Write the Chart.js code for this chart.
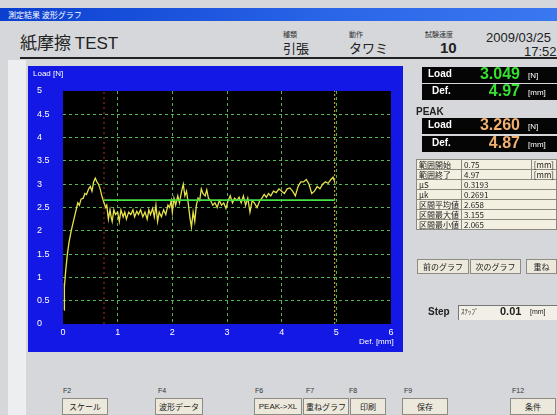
<!DOCTYPE html>
<html><head><meta charset="utf-8">
<script src="https://cdn.jsdelivr.net/npm/chart.js@4/dist/chart.umd.min.js"></script>
<style>
html,body{margin:0;padding:0;width:557px;height:415px;overflow:hidden;background:#d5d7db;font-family:"Noto Sans CJK JP","Liberation Sans",sans-serif;}
.a{position:absolute;white-space:nowrap;}
#title{left:0;top:8px;width:557px;height:13px;background:linear-gradient(to right,#0b3fd0,#2a66e8 60%,#3a78f0);color:#fff;font-size:8px;line-height:13px;padding-left:8px;box-sizing:border-box;}
#strip{left:8px;top:60px;width:18px;height:355px;background:#eceef0;}
#hline{left:20px;top:57px;width:537px;height:2px;background:#222;}
#panel{left:28px;top:66px;width:375px;height:286px;background:#1418e4;}
.blk{background:#050505;height:16px;left:422px;width:135px;}
.lab{color:#fff;font-family:"Liberation Sans",sans-serif;font-weight:bold;font-size:10px;}
.unit{color:#fff;font-family:"Liberation Sans",sans-serif;font-size:8px;}
.val{font-family:"Liberation Sans",sans-serif;font-weight:bold;font-size:16px;text-align:right;width:90px;}
table{border-collapse:collapse;font-size:8px;}
td{border:1px solid #8a8a80;height:9px;padding:0 2px;line-height:9px;background:#f3f0e2;color:#222;}
.btn{background:#ece9dc;border:1px solid #8c8c84;box-sizing:border-box;font-size:8px;text-align:center;color:#222;}
.fk{font-size:7px;color:#333;font-family:"Liberation Sans",sans-serif;}
</style></head>
<body>
<div id="title" class="a">測定結果 波形グラフ</div>
<div class="a" style="left:20px;top:29px;font-size:17px;color:#222;">紙摩擦 <span style="font-family:'Liberation Sans';font-weight:normal;">TEST</span></div>
<div class="a" style="left:283px;top:29px;font-size:7px;color:#333;">種類</div>
<div class="a" style="left:283px;top:38px;font-size:13px;color:#222;">引張</div>
<div class="a" style="left:349px;top:29px;font-size:7px;color:#333;">動作</div>
<div class="a" style="left:349px;top:38px;font-size:13px;color:#222;">タワミ</div>
<div class="a" style="left:425px;top:29px;font-size:7px;color:#333;">試験速度</div>
<div class="a" style="left:440px;top:39px;font-size:15px;font-weight:bold;font-family:'Liberation Sans';color:#222;">10</div>
<div class="a" style="left:486px;top:30px;font-size:13px;font-family:'Liberation Sans';color:#222;">2009/03/25</div>
<div class="a" style="left:524px;top:44px;font-size:13px;font-family:'Liberation Sans';color:#222;">17:52</div>
<div id="hline" class="a"></div>
<div id="strip" class="a"></div>
<div id="panel" class="a"></div>
<canvas id="c" width="375" height="286" class="a" style="left:28px;top:66px;"></canvas>
<div class="a" style="left:33px;top:69px;color:#fff;font-size:8px;font-family:'Liberation Sans';">Load [N]</div>
<div class="a" style="left:359px;top:337px;color:#fff;font-size:8px;font-family:'Liberation Sans';">Def. [mm]</div>

<div class="a blk" style="top:67px;"></div>
<div class="a lab" style="left:428px;top:68px;">Load</div>
<div class="a val" style="left:430px;top:65px;color:#36e030;">3.049</div>
<div class="a unit" style="left:528px;top:71px;">[N]</div>
<div class="a blk" style="top:84px;"></div>
<div class="a lab" style="left:432px;top:85px;">Def.</div>
<div class="a val" style="left:430px;top:82px;color:#36e030;">4.97</div>
<div class="a unit" style="left:528px;top:88px;">[mm]</div>
<div class="a" style="left:416px;top:106px;font-size:10px;font-weight:bold;font-family:'Liberation Sans';color:#222;">PEAK</div>
<div class="a blk" style="top:118px;"></div>
<div class="a lab" style="left:428px;top:119px;">Load</div>
<div class="a val" style="left:430px;top:116px;color:#f0b070;">3.260</div>
<div class="a unit" style="left:528px;top:122px;">[N]</div>
<div class="a blk" style="top:136px;"></div>
<div class="a lab" style="left:432px;top:137px;">Def.</div>
<div class="a val" style="left:430px;top:134px;color:#f0b070;">4.87</div>
<div class="a unit" style="left:528px;top:140px;">[mm]</div>

<table class="a" style="left:416px;top:159px;width:141px;">
<tr><td style="width:40px;">範囲開始</td><td>0.75</td><td style="width:20px;">[mm]</td></tr>
<tr><td>範囲終了</td><td>4.97</td><td>[mm]</td></tr>
<tr><td>μS</td><td colspan="2">0.3193</td></tr>
<tr><td>μk</td><td colspan="2">0.2691</td></tr>
<tr><td>区間平均値</td><td colspan="2">2.658</td></tr>
<tr><td>区間最大値</td><td colspan="2">3.155</td></tr>
<tr><td>区間最小値</td><td colspan="2">2.065</td></tr>
</table>
<div class="a btn" style="left:417px;top:259px;width:52px;height:15px;line-height:13px;">前のグラフ</div>
<div class="a btn" style="left:470px;top:259px;width:51px;height:15px;line-height:13px;">次のグラフ</div>
<div class="a btn" style="left:526px;top:259px;width:31px;height:15px;line-height:13px;">重ね</div>

<div class="a" style="left:428px;top:306px;font-size:10px;font-weight:bold;font-family:'Liberation Sans';color:#222;">Step</div>
<div class="a" style="left:458px;top:305px;width:99px;height:14px;background:#f2f0e6;border-top:1px solid #777;border-left:1px solid #777;"></div>
<div class="a" style="left:461px;top:306px;font-size:7px;color:#333;">ｽﾃｯﾌﾟ</div>
<div class="a" style="left:500px;top:305px;font-size:11px;font-weight:bold;font-family:'Liberation Sans';color:#222;">0.01</div>
<div class="a" style="left:530px;top:308px;font-size:7px;font-family:'Liberation Sans';color:#222;">[mm]</div>

<div class="a fk" style="left:63px;top:387px;">F2</div>
<div class="a fk" style="left:158px;top:387px;">F4</div>
<div class="a fk" style="left:255px;top:387px;">F6</div>
<div class="a fk" style="left:306px;top:387px;">F7</div>
<div class="a fk" style="left:349px;top:387px;">F8</div>
<div class="a fk" style="left:404px;top:387px;">F9</div>
<div class="a fk" style="left:512px;top:387px;">F12</div>
<div class="a btn" style="left:62px;top:398px;width:46px;height:17px;line-height:15px;">スケール</div>
<div class="a btn" style="left:155px;top:398px;width:48px;height:17px;line-height:15px;">波形データ</div>
<div class="a btn" style="left:254px;top:398px;width:48px;height:17px;line-height:15px;font-family:'Liberation Sans';">PEAK-&gt;XL</div>
<div class="a btn" style="left:303px;top:398px;width:46px;height:17px;line-height:15px;">重ねグラフ</div>
<div class="a btn" style="left:350px;top:398px;width:36px;height:17px;line-height:15px;">印刷</div>
<div class="a btn" style="left:402px;top:398px;width:46px;height:17px;line-height:15px;">保存</div>
<div class="a btn" style="left:510px;top:398px;width:46px;height:17px;line-height:15px;">条件</div>

<script>
// Data
const defMm = [0.02,0.021,0.03,0.05,0.08,0.11,0.15,0.2,0.24,0.27,0.3,0.33,0.37,0.4,0.43,0.47,0.5,0.53,0.56,0.59,0.62,0.65,0.68,0.71,0.75,0.78,0.8,0.83,0.86,0.88,0.9,0.93,0.96,1.0,1.03,1.06,1.1,1.13,1.16,1.2,1.24,1.28,1.31,1.35,1.38,1.42,1.46,1.5,1.54,1.57,1.6,1.64,1.67,1.7,1.73,1.76,1.8,1.84,1.88,1.92,1.95,1.98,2.0,2.03,2.06,2.1,2.13,2.17,2.2,2.23,2.26,2.29,2.32,2.35,2.38,2.41,2.44,2.47,2.5,2.53,2.56,2.6,2.63,2.66,2.7,2.74,2.78,2.82,2.86,2.9,2.94,2.98,3.02,3.06,3.1,3.14,3.18,3.22,3.26,3.3,3.34,3.38,3.42,3.46,3.5,3.55,3.6,3.64,3.68,3.72,3.76,3.8,3.85,3.9,3.95,4.0,4.05,4.1,4.15,4.2,4.25,4.3,4.35,4.4,4.45,4.5,4.55,4.6,4.65,4.7,4.75,4.8,4.85,4.9,4.94,4.97];
const loadN = [0.3,0.88,0.8,1.15,1.5,1.75,2.0,2.25,2.45,2.6,2.55,2.68,2.7,2.8,2.78,2.9,2.95,2.85,3.05,3.13,3.05,3.0,2.9,2.75,2.6,2.5,2.55,2.25,2.45,2.3,2.2,2.45,2.35,2.4,2.2,2.45,2.3,2.4,2.25,2.4,2.35,2.45,2.3,2.42,2.35,2.45,2.3,2.4,2.25,2.45,2.35,2.48,2.3,2.55,2.2,2.4,2.3,2.45,2.35,2.55,2.5,2.65,2.4,2.7,2.55,2.75,2.6,2.85,3.0,2.75,2.85,2.6,2.3,2.08,2.4,2.2,2.55,2.7,2.65,2.9,2.8,2.75,2.88,2.7,2.65,2.55,2.6,2.5,2.65,2.55,2.6,2.48,2.65,2.75,2.6,2.7,2.65,2.72,2.6,2.75,2.55,2.7,2.4,2.65,2.6,2.5,2.65,2.7,2.78,2.72,2.8,2.75,2.85,2.82,2.9,2.85,2.8,2.9,2.92,2.85,2.75,2.95,3.05,3.05,3.1,3.0,2.8,2.85,2.95,2.9,3.0,3.05,3.02,3.1,3.15,3.05];
const rangeStart = 0.75, rangeEnd = 4.97, avgLoad = 2.658;
const xTicks = [0,1,2,3,4,5,6];
const yTicks = [0,0.5,1,1.5,2,2.5,3,3.5,4,4.5,5];

const curve = defMm.map((x,i)=>({x, y: loadN[i]}));
const gridGreen = 'rgba(90,200,90,0.9)';

const blackBg = {id:'blackBg', beforeDraw(ch){const a=ch.chartArea,c=ch.ctx;c.save();c.fillStyle='#000';c.fillRect(a.left,a.top,a.right-a.left,a.bottom-a.top);c.restore();}};

new Chart(document.getElementById('c'), {
  type:'line',
  data:{datasets:[
    {data:curve, borderColor:'#e6e24a', borderWidth:1.3, pointRadius:0, tension:0, order:2},
    {data:[{x:rangeStart,y:avgLoad},{x:rangeEnd,y:avgLoad}], borderColor:'#44e044', borderWidth:1.6, pointRadius:0, order:1},
    {data:[{x:rangeStart,y:0},{x:rangeStart,y:5}], borderColor:'#b03020', borderWidth:1, borderDash:[2,3], pointRadius:0, order:3},
    {data:[{x:rangeEnd,y:0},{x:rangeEnd,y:5}], borderColor:'#d8c040', borderWidth:1, borderDash:[2,2], pointRadius:0, order:3}
  ]},
  options:{
    responsive:false, animation:false, devicePixelRatio:1,
    layout:{padding:{left:9,top:25,right:12,bottom:0}},
    plugins:{legend:{display:false},tooltip:{enabled:false}},
    scales:{
      x:{type:'linear',min:0,max:6,
        afterBuildTicks:s=>{s.ticks=xTicks.map(v=>({value:v}));},
        afterFit:s=>{s.height=28;},
        ticks:{color:'#fff',font:{family:'Liberation Sans',size:9},padding:3,maxRotation:0,callback:v=>String(v)},
        grid:{color:c=>(c.tick&&(c.tick.value===0||c.tick.value===6))?'rgba(0,0,0,0)':gridGreen,lineWidth:1,drawTicks:false},
        border:{display:false,dash:[3,3]}},
      y:{type:'linear',min:0,max:5,
        afterBuildTicks:s=>{s.ticks=yTicks.map(v=>({value:v}));},
        afterFit:s=>{s.width=26;},
        ticks:{color:'#fff',font:{family:'Liberation Sans',size:9},crossAlign:'far',padding:3,callback:v=>String(v)},
        grid:{color:c=>(c.tick&&(c.tick.value===0||c.tick.value===5))?'rgba(0,0,0,0)':gridGreen,lineWidth:1,drawTicks:false},
        border:{display:false,dash:[3,3]}}
    }
  },
  plugins:[blackBg]
});
</script>
</body></html>
